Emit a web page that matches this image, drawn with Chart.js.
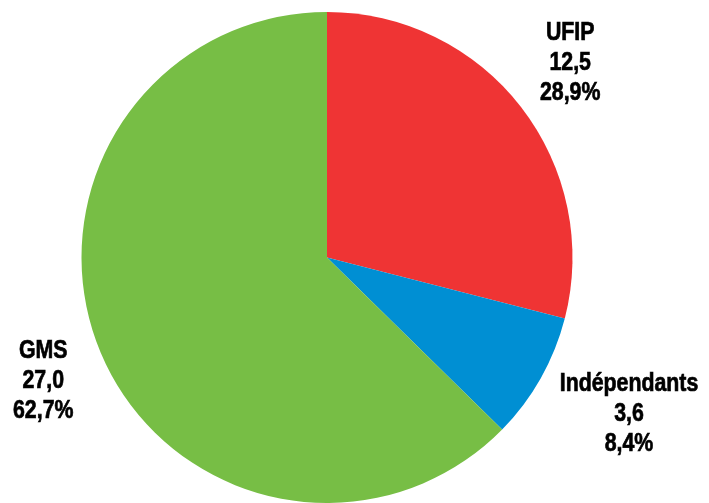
<!DOCTYPE html>
<html>
<head>
<meta charset="utf-8">
<script src="https://cdn.jsdelivr.net/npm/chart.js@4/dist/chart.umd.min.js"></script>
<style>
  html, body { margin: 0; padding: 0; background: #fff; }
  #wrap { width: 709px; height: 503px; }
</style>
</head>
<body>
<div id="wrap"><canvas id="graphique"></canvas></div>
<script>
const categories = ['UFIP', 'Indépendants', 'GMS'];
const valeurs = [12.5, 3.6, 27.0];
const valeursTexte = ['12,5', '3,6', '27,0'];
const pourcentages = ['28,9%', '8,4%', '62,7%'];
const couleurs = ['#EF3434', '#008FD3', '#77BE45'];

const FONT = 'bold 26px "Liberation Sans", Arial, sans-serif';
const ETROIT = 0.82; // pas de police "narrow" installée : on compresse à la main

// étiquettes à l'extérieur des parts, façon Excel
const etiquettes = {
  id: 'etiquettes',
  afterDatasetsDraw(chart) {
    const ctx = chart.ctx;
    const meta = chart.getDatasetMeta(0);
    ctx.save();
    ctx.font = FONT;
    ctx.fillStyle = '#000';
    ctx.strokeStyle = '#000';
    ctx.lineWidth = 0.7;
    ctx.textAlign = 'center';
    ctx.textBaseline = 'middle';
    const lh = 30;
    meta.data.forEach((arc, i) => {
      const lignes = [categories[i], valeursTexte[i], pourcentages[i]];
      const w = Math.max(...lignes.map(t => ctx.measureText(t).width)) * ETROIT;
      const h = lh * lignes.length - 10;
      const mid = (arc.startAngle + arc.endAngle) / 2;
      const dx = Math.cos(mid), dy = Math.sin(mid);
      const d = arc.outerRadius + 32;
      const cx = arc.x + dx * d + dx * w / 2;
      const cy = arc.y + dy * d + dy * h / 2;
      lignes.forEach((t, k) => {
        ctx.save();
        ctx.translate(cx, cy + (k - 1) * lh);
        ctx.scale(ETROIT, 1);
        ctx.fillText(t, 0, 0);
        ctx.strokeText(t, 0, 0);
        ctx.restore();
      });
    });
    ctx.restore();
  }
};

document.addEventListener('DOMContentLoaded', () => {
  const ctx = document.getElementById('graphique').getContext('2d');

  new Chart(ctx, {
    type: 'pie',
    data: {
      labels: categories,
      datasets: [{
        data: valeurs,
        backgroundColor: couleurs,
        borderWidth: 0
      }]
    },
    options: {
      responsive: true,
      maintainAspectRatio: false,
      animation: false,
      layout: {
        padding: { top: 12, bottom: 0, left: 0, right: 55 }
      },
      plugins: {
        legend: { display: false },
        tooltip: { enabled: false }
      }
    },
    plugins: [etiquettes]
  });
});
</script>
</body>
</html>
